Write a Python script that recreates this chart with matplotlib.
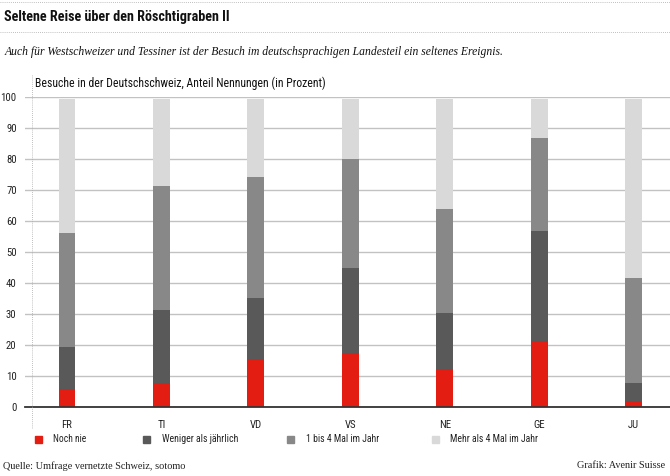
import matplotlib
matplotlib.use("Agg")
import matplotlib.pyplot as plt
import matplotlib.font_manager as fm
from matplotlib.lines import Line2D
from matplotlib.patches import Rectangle
import numpy as np

categories = ["FR", "TI", "VD", "VS", "NE", "GE", "JU"]
noch_nie = [6.0, 7.8, 15.6, 17.4, 12.3, 21.5, 2.0]
weniger = [13.4, 23.7, 19.6, 27.4, 18.1, 35.4, 5.9]
ein_bis_vier = [36.7, 39.8, 39.0, 35.2, 33.6, 29.9, 33.7]
mehr_als_vier = [43.4, 28.2, 25.3, 19.5, 35.5, 12.7, 57.9]
series_names = ["Noch nie", "Weniger als jährlich", "1 bis 4 Mal im Jahr", "Mehr als 4 Mal im Jahr"]
yticks = [0, 10, 20, 30, 40, 50, 60, 70, 80, 90, 100]

colors = ["#e41d13", "#595959", "#888888", "#d9d9d9"]

# pick a condensed sans if available
ttf = fm.fontManager.ttflist
names = {f.name for f in ttf}
cond_family, cond_stretch = "Roboto", "normal"
if "Liberation Sans Narrow" in names:
    cond_family, cond_stretch = "Liberation Sans Narrow", "normal"
elif "Roboto Condensed" in names:
    cond_family, cond_stretch = "Roboto Condensed", "normal"
elif any(f.name == "DejaVu Sans" and f.stretch in ("condensed", "semi-condensed") for f in ttf):
    cond_family, cond_stretch = "DejaVu Sans", "condensed"
elif any(f.name == "Roboto" and f.stretch in ("condensed", "semi-condensed") for f in ttf):
    cond_family, cond_stretch = "Roboto", "condensed"
cond = [cond_family, "DejaVu Sans"]
serif = ["Liberation Serif", "DejaVu Serif"]

W, H = 670, 476
fig = plt.figure(figsize=(W / 100, H / 100), dpi=100)
renderer = fig.canvas.get_renderer()

def fx(px):
    return px / W

def fy(py):
    return 1 - py / H

def fit(t, target):
    for _ in range(3):
        w = t.get_window_extent(renderer).width
        if w > 0:
            t.set_fontsize(t.get_fontsize() * target / w)
    return t

ax = fig.add_axes([fx(25), fy(407.3), 1 - fx(25), (407.3 - 97.3) / H])
x = np.arange(len(categories))
bottom = np.zeros(len(categories))
for vals, c, name in zip([noch_nie, weniger, ein_bis_vier, mehr_als_vier], colors, series_names):
    ax.bar(x, vals, bottom=bottom, width=0.178, color=c, label=name, zorder=3)
    bottom += np.array(vals)

# determine tick font size from the width of "100"
probe = fig.text(0, 0, "100", fontfamily=cond, fontstretch=cond_stretch, fontsize=9)
fit(probe, 16)
tick_fs = probe.get_fontsize()
probe.remove()

ax.set_xlim(-0.445, 6.385)
ax.set_ylim(0, 100)
ax.set_yticks(yticks)
ax.set_yticklabels([str(t) for t in yticks], fontfamily=cond, fontstretch=cond_stretch,
                   fontsize=tick_fs, color="#222222")
ax.set_xticks(x)
ax.set_xticklabels(categories, fontfamily=cond, fontstretch=cond_stretch,
                   fontsize=tick_fs, color="#222222")
ax.tick_params(axis="y", length=0, pad=6)
ax.tick_params(axis="x", length=0, pad=9)
ax.grid(axis="y", color="#c2c2c2", linewidth=1.0, zorder=0)
for s in ["top", "right", "left"]:
    ax.spines[s].set_visible(False)
ax.spines["bottom"].set_color("#333333")
ax.spines["bottom"].set_linewidth(1.3)
ax.spines["bottom"].set_zorder(4)

# dotted lines
dot = (0, (1, 1.5))
fig.add_artist(Line2D([0, 1], [fy(2), fy(2)], color="#aaaaaa", linestyle=dot, linewidth=0.6))
fig.add_artist(Line2D([0, 1], [fy(32), fy(32)], color="#aaaaaa", linestyle=dot, linewidth=0.6))
fig.add_artist(Line2D([fx(32), fx(32)], [fy(75), fy(428)], color="#aaaaaa", linestyle=dot, linewidth=0.6))

t = fig.text(fx(4), fy(17), "Seltene Reise über den Röschtigraben II", fontfamily=cond,
             fontstretch=cond_stretch, fontsize=10, fontweight="bold", color="#111111",
             va="center", ha="left")
fit(t, 226)
t = fig.text(fx(5), fy(52), "Auch für Westschweizer und Tessiner ist der Besuch im deutschsprachigen Landesteil ein seltenes Ereignis.",
             fontfamily=serif, fontstyle="italic", fontsize=9, color="#111111", va="center", ha="left")
fit(t, 499)
t = fig.text(fx(35), fy(83), "Besuche in der Deutschschweiz, Anteil Nennungen (in Prozent)", fontfamily=cond,
             fontstretch=cond_stretch, fontsize=9, color="#111111", va="center", ha="left")
fit(t, 287)

# legend
leg_sq = [35, 143, 287, 432]
leg_tx = [53, 162, 306, 450]
leg_w = [33, 76, 73, 88]
for sx, tx, tw, c, name in zip(leg_sq, leg_tx, leg_w, colors, series_names):
    fig.add_artist(Rectangle((fx(sx), fy(443)), fx(7), 7 / H, color=c))
    t = fig.text(fx(tx), fy(439.5), name, fontfamily=cond, fontstretch=cond_stretch, fontsize=8,
                 color="#222222", va="center", ha="left")
    fit(t, tw)

t = fig.text(fx(3), fy(466), "Quelle: Umfrage vernetzte Schweiz, sotomo", fontfamily=serif,
             fontsize=9, color="#222222", va="center", ha="left")
fit(t, 182)
t = fig.text(fx(665), fy(466), "Grafik: Avenir Suisse", fontfamily=serif,
             fontsize=9, color="#222222", va="center", ha="right")
fit(t, 89)

fig.savefig("out.png", dpi=100, facecolor="white")
